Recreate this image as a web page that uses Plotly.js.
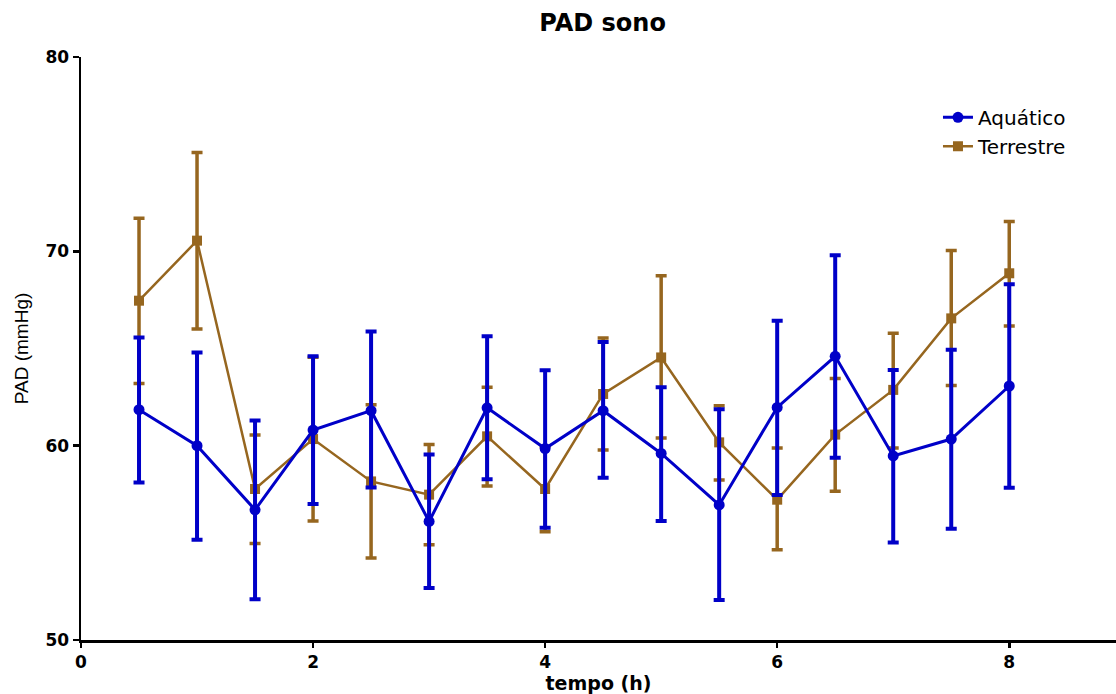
<!DOCTYPE html>
<html>
<head>
<meta charset="utf-8">
<script src="https://cdn.plot.ly/plotly-3.0.1.min.js"></script>
<style>html,body{margin:0;padding:0;background:#fff;}#chart{width:1116px;height:694px;}</style>
</head>
<body>
<div id="chart"></div>
<script>
const tempo = [0.5, 1, 1.5, 2, 2.5, 3, 3.5, 4, 4.5, 5, 5.5, 6, 6.5, 7, 7.5, 8];

const aquaticoMean  = [61.85, 60.0, 56.7, 60.8, 61.8, 56.1, 61.95, 59.85, 61.8, 59.6, 56.95, 61.97, 64.6, 59.47, 60.34, 63.07];
const aquaticoUpper = [65.56, 64.8, 61.3, 64.6, 65.87, 59.54, 65.63, 63.88, 65.34, 63.0, 61.87, 66.43, 69.8, 63.9, 64.93, 68.3];
const aquaticoLower = [58.1, 55.16, 52.1, 57.0, 57.85, 52.68, 58.27, 55.78, 58.35, 56.12, 52.06, 57.46, 59.38, 55.02, 55.73, 57.84];

const terrestreMean  = [67.46, 70.55, 57.77, 60.34, 58.16, 57.48, 60.48, 57.77, 62.66, 64.54, 60.17, 57.22, 60.57, 62.87, 66.55, 68.87];
const terrestreUpper = [71.7, 75.08, 60.55, 64.55, 62.11, 60.06, 63.0, 59.97, 65.54, 68.75, 62.06, 59.88, 63.46, 65.78, 70.04, 71.54];
const terrestreLower = [63.2, 66.0, 54.97, 56.12, 54.22, 54.9, 57.93, 55.57, 59.78, 60.4, 58.23, 54.65, 57.65, 59.88, 63.09, 66.16];

const xTicks = [0, 2, 4, 6, 8];
const yTicks = [50, 60, 70, 80];

const blue = '#0000C8';
const brown = '#96661F';
const boldFont = 'DejaVu Sans, Verdana, sans-serif';

function diff(a, b) { return a.map((v, i) => +(v - b[i]).toFixed(3)); }

const traces = [
  {
    x: tempo, y: terrestreMean, name: 'Terrestre', type: 'scatter', mode: 'lines+markers',
    line: {color: brown, width: 2.5},
    marker: {symbol: 'square', size: 10, color: brown},
    error_y: {type: 'data', symmetric: false, array: diff(terrestreUpper, terrestreMean),
              arrayminus: diff(terrestreMean, terrestreLower), color: brown, thickness: 3.5, width: 5.5}
  },
  {
    x: tempo, y: aquaticoMean, name: 'Aquático', type: 'scatter', mode: 'lines+markers',
    line: {color: blue, width: 3},
    marker: {symbol: 'circle', size: 11, color: blue},
    error_y: {type: 'data', symmetric: false, array: diff(aquaticoUpper, aquaticoMean),
              arrayminus: diff(aquaticoMean, aquaticoLower), color: blue, thickness: 4, width: 5.5}
  }
];

const layout = {
  width: 1116, height: 694,
  margin: {l: 81, r: 0, t: 57, b: 54},
  paper_bgcolor: '#fff', plot_bgcolor: '#fff',
  font: {family: 'Liberation Sans, Arial, sans-serif', color: '#000'},
  title: {text: 'PAD sono', x: 0.54, xanchor: 'center', y: 0.967, yanchor: 'middle',
          font: {size: 24, weight: 'bold', family: boldFont, color: '#000'}},
  xaxis: {
    range: [0, 8.92], tickvals: xTicks, ticktext: xTicks.map(String),
    showgrid: false, zeroline: false, showline: true, linecolor: '#000', linewidth: 2.5,
    ticks: 'outside', ticklen: 5, tickwidth: 2.5, tickcolor: '#000',
    tickfont: {size: 17, weight: 'bold', family: boldFont},
    title: {text: 'tempo (h)', standoff: 3, font: {size: 19, weight: 'bold', family: boldFont}}
  },
  yaxis: {
    range: [50, 80], tickvals: yTicks, ticktext: yTicks.map(String),
    showgrid: false, zeroline: false, showline: true, linecolor: '#000', linewidth: 2.5,
    ticks: 'outside', ticklen: 6, tickwidth: 2.5, tickcolor: '#000',
    tickfont: {size: 17, weight: 'bold', family: boldFont},
    title: {text: 'PAD (mmHg)', standoff: 12, font: {size: 19}}
  },
  legend: {x: 0.828, y: 0.93, xanchor: 'left', yanchor: 'top', traceorder: 'reversed',
           font: {size: 20, family: 'DejaVu Sans, sans-serif'}, bgcolor: 'rgba(0,0,0,0)', itemwidth: 30, tracegroupgap: 0},
  showlegend: true
};

Plotly.newPlot('chart', traces, layout, {displayModeBar: false, staticPlot: true});
</script>
</body>
</html>
